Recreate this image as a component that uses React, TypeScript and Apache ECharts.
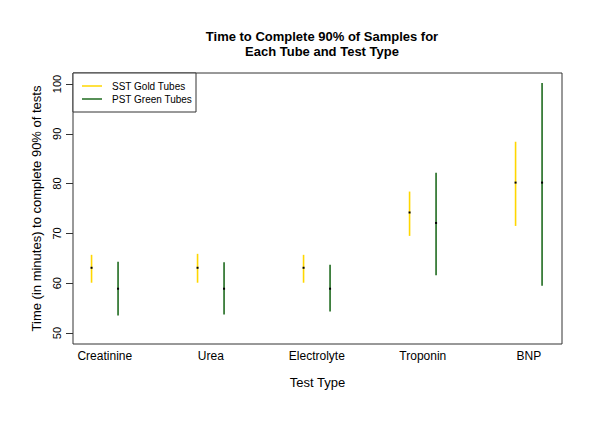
import React, { useEffect, useRef } from "react";
import * as echarts from "echarts";

const categories = ["Creatinine", "Urea", "Electrolyte", "Troponin", "BNP"];
const sstMean = [63.1, 63.1, 63.1, 74.2, 80.2];
const sstLow = [60.1, 60.1, 60.1, 69.5, 71.5];
const sstHigh = [65.7, 65.9, 65.7, 78.4, 88.4];
const pstMean = [58.9, 58.9, 58.9, 72.1, 80.2];
const pstLow = [53.5, 53.7, 54.3, 61.6, 59.5];
const pstHigh = [64.3, 64.2, 63.7, 82.2, 100.2];
const yTicks = [50, 60, 70, 80, 90, 100];

const FONT = "'Liberation Sans', Arial, sans-serif";
const GOLD = "#ffd700";
const GREEN = "#1f6b1f";
const OFFSET = 0.125;

function makeSeries(name: string, color: string, low: number[], high: number[], mean: number[], shift: number) {
  return {
    name,
    type: "custom",
    data: categories.map((_, i) => [i + shift, low[i], high[i], mean[i]]),
    encode: { x: 0, y: [1, 2, 3] },
    renderItem: (params: any, api: any) => {
      const x = api.value(0);
      const pLo = api.coord([x, api.value(1)]);
      const pHi = api.coord([x, api.value(2)]);
      const pMid = api.coord([x, api.value(3)]);
      return {
        type: "group",
        children: [
          {
            type: "line",
            shape: { x1: pLo[0], y1: pLo[1], x2: pHi[0], y2: pHi[1] },
            style: { stroke: color, lineWidth: 1.6 },
          },
          {
            type: "rect",
            shape: { x: pMid[0] - 1, y: pMid[1] - 1, width: 2, height: 2 },
            style: { fill: "#000" },
          },
        ],
      };
    },
  };
}

export default function App() {
  const ref = useRef<HTMLDivElement>(null);
  useEffect(() => {
    const chart = echarts.init(ref.current!, null, { renderer: "svg" });
    chart.setOption({
      animation: false,
      backgroundColor: "#fff",
      textStyle: { fontFamily: FONT },
      title: {
        text: "Time to Complete 90% of Samples for\nEach Tube and Test Type",
        left: 317,
        textAlign: "center",
        top: 24,
        textStyle: { fontSize: 13, fontWeight: "bold", color: "#000", fontFamily: FONT, lineHeight: 15 },
      },
      grid: {
        left: 73,
        right: 38,
        top: 73,
        bottom: 92,
        show: true,
        borderColor: "#333",
        borderWidth: 1,
        backgroundColor: "transparent",
      },
      xAxis: {
        type: "value",
        min: -0.3,
        max: 4.313,
        splitLine: { show: false },
        axisLine: { show: false, onZero: false },
        axisTick: { show: false },
        axisLabel: {
          customValues: [0, 1, 2, 3, 4],
          formatter: (v: number) => categories[Math.round(v)] ?? "",
          fontSize: 12,
          color: "#000",
          margin: 6,
          fontFamily: FONT,
        },
        name: "Test Type",
        nameLocation: "middle",
        nameGap: 32,
        nameTextStyle: { fontSize: 13, color: "#000", fontFamily: FONT },
      },
      yAxis: {
        type: "value",
        min: 47.8,
        max: 102.2,
        splitLine: { show: false },
        axisLine: { show: false, onZero: false },
        axisTick: { show: true, customValues: yTicks, length: 7, lineStyle: { color: "#333" } },
        axisLabel: {
          customValues: yTicks,
          rotate: 90,
          fontSize: 11,
          color: "#000",
          margin: 11,
          fontFamily: FONT,
        },
        name: "Time (in minutes) to complete 90% of tests",
        nameLocation: "middle",
        nameGap: 28,
        nameTextStyle: { fontSize: 13, color: "#000", fontFamily: FONT },
      },
      series: [
        makeSeries("SST Gold Tubes", GOLD, sstLow, sstHigh, sstMean, -OFFSET),
        makeSeries("PST Green Tubes", GREEN, pstLow, pstHigh, pstMean, OFFSET),
      ],
      graphic: [
        {
          type: "rect",
          shape: { x: 73, y: 73, width: 123, height: 39 },
          style: { fill: "#fff", stroke: "#333", lineWidth: 1 },
          z: 10,
        },
        {
          type: "line",
          shape: { x1: 82, y1: 86, x2: 102, y2: 86 },
          style: { stroke: GOLD, lineWidth: 1.5 },
          z: 11,
        },
        {
          type: "line",
          shape: { x1: 82, y1: 99, x2: 102, y2: 99 },
          style: { stroke: GREEN, lineWidth: 1.5 },
          z: 11,
        },
        {
          type: "text",
          x: 112,
          y: 86,
          style: { text: "SST Gold Tubes", fontSize: 10, fill: "#000", verticalAlign: "middle", fontFamily: FONT },
          z: 11,
        },
        {
          type: "text",
          x: 112,
          y: 99,
          style: { text: "PST Green Tubes", fontSize: 10, fill: "#000", verticalAlign: "middle", fontFamily: FONT },
          z: 11,
        },
      ],
    });
    return () => chart.dispose();
  }, []);
  return <div ref={ref} style={{ position: "fixed", left: 0, top: 0, width: 600, height: 436 }} />;
}
